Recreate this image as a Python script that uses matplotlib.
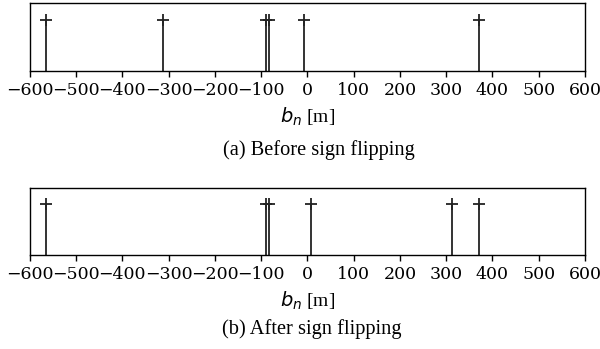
import numpy as np
import matplotlib.pyplot as plt

plt.rcParams['mathtext.fontset'] = 'dejavusans'

# baseline offsets b_n in metres
b_before = [-565, -312, -90, -83, -8, 372]
b_after = [-565, -90, -83, 8, 312, 372]
heights = [1, 1, 1, 1, 1, 1]

xticks = np.arange(-600, 601, 100)
captions = ['(a) Before sign flipping', '(b) After sign flipping']

fig = plt.figure(figsize=(6, 3.49), dpi=100)
ax_a = fig.add_axes([0.0495, 0.7974, 0.9255, 0.1931])
ax_b = fig.add_axes([0.0495, 0.2693, 0.9255, 0.1928])

for ax, b, cap, cap_xy in [(ax_a, b_before, captions[0], (0.531, 0.571)),
                           (ax_b, b_after, captions[1], (0.52, 0.057))]:
    markers, stems, base = ax.stem(b, heights, linefmt='-', markerfmt='+', basefmt=' ')
    plt.setp(stems, color='#333333', linewidth=1.4)
    plt.setp(markers, color='#222222', markersize=9, markeredgewidth=1.3)
    ax.set_xlim(-600, 600)
    ax.set_ylim(0, 1.33)
    ax.set_yticks([])
    ax.set_xticks(xticks)
    ax.set_xticklabels([str(t).replace('-', '\u2212') for t in xticks],
                       family='DejaVu Serif', fontsize=12.5)
    ax.tick_params(axis='x', direction='out', length=4, width=1, pad=4)
    for s in ax.spines.values():
        s.set_linewidth(1)
    ax.set_xlabel('$b_n$ [m]', family='Liberation Serif', fontsize=14, labelpad=5)
    fig.text(cap_xy[0], cap_xy[1], cap, ha='center', va='center',
             family='Liberation Serif', fontsize=14.7)

fig.savefig('out.png', dpi=100)
